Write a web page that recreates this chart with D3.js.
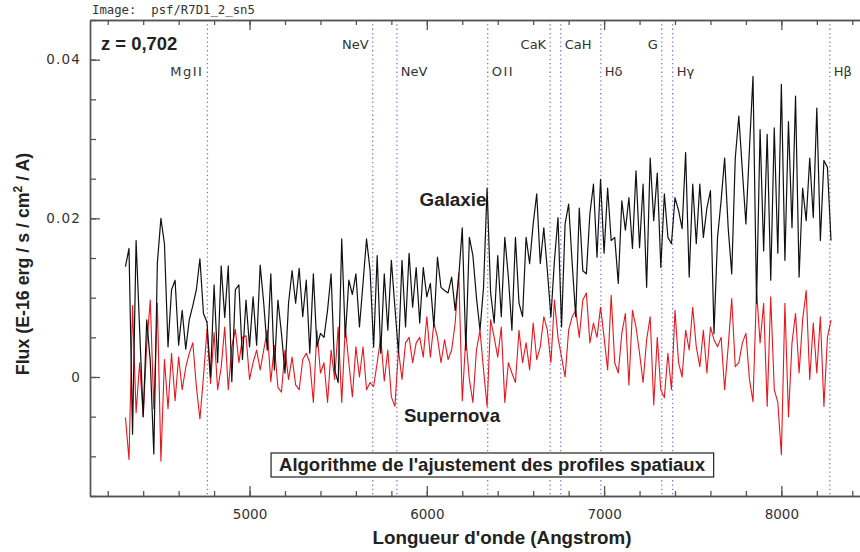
<!DOCTYPE html>
<html>
<head>
<meta charset="utf-8">
<script src="https://cdn.jsdelivr.net/npm/d3@7"></script>
<style>
  body { margin: 0; background: #fff; }
  svg { display: block; }
</style>
</head>
<body>
<svg id="chart" width="860" height="552"></svg>
<script>
// Spectrum sampling grid (Angstrom)
const wavelengths = d3.range(4300, 8300, 20);

// Galaxy flux (E-16 erg / s / cm2 / A)
const galaxyFlux = [
  .0139, .0162, -.0072, .0172, .0060, -.0050, .0072, .0020, -.0097, .0144,
  .0200, .0168, .0038, .0110, .0122, .0040, .0084, .0035, .0072, .0090,
  .0110, .0149, .0080, .0069, .0000, .0116, .0018, .0140, .0075, .0140,
  -.0006, .0110, .0116, .0022, .0097, .0038, .0101, .0040, .0141, .0093,
  .0034, .0130, .0009, .0097, .0055, .0005, .0093, .0134, .0093, .0137,
  .0076, .0122, .0030, .0130, .0038, .0055, .0050, .0084, .0130, .0009,
  -.0007, .0174, .0050, .0122, .0104, .0130, .0063, .0118, .0174, .0134,
  .0038, .0153, .0030, .0130, .0059, .0147, .0088, .0030, .0147, .0063,
  .0156, .0088, .0138, .0068, .0138, .0101, .0118, .0063, .0151, .0113,
  .0109, .0106, .0126, .0084, .0126, .0188, .0034, .0176, .0153, .0100,
  .0059, .0113, .0238, .0106, .0068, .0153, .0076, .0176, .0126, .0059,
  .0176, .0093, .0076, .0176, .0143, .0193, .0231, .0143, .0188, .0134,
  .0076, .0147, .0201, .0063, .0193, .0218, .0143, .0076, .0213, .0134,
  .0130, .0206, .0243, .0151, .0249, .0156, .0238, .0172, .0176, .0118,
  .0222, .0185, .0226, .0162, .0260, .0163, .0243, .0113, .0276, .0197,
  .0257, .0138, .0231, .0176, .0168, .0226, .0210, .0187, .0283, .0126,
  .0243, .0168, .0243, .0176, .0213, .0235, .0055, .0176, .0222, .0276,
  .0188, .0130, .0276, .0329, .0260, .0193, .0288, .0379, .0093, .0312,
  .0159, .0306, .0122, .0314, .0156, .0369, .0147, .0322, .0188, .0354,
  .0126, .0238, .0197, .0276, .0201, .0339, .0172, .0273, .0264, .0172
];

// Supernova flux (E-16 erg / s / cm2 / A)
const supernovaFlux = [
  -.0051, -.0104, .0090, -.0045, .0018, -.0050, .0040, .0097, -.0040, .0093,
  -.0106, .0022, -.0040, .0030, -.0030, .0025, -.0016, .0012, .0030, .0043,
  -.0012, -.0053, .0000, .0060, -.0008, .0056, -.0016, .0012, .0063, -.0016,
  .0038, .0060, .0018, .0050, .0052, -.0003, .0018, .0034, .0009, .0034,
  .0059, -.0006, .0040, -.0013, -.0019, .0034, -.0003, .0025, -.0010, -.0016,
  .0022, .0030, .0018, -.0032, .0059, .0005, .0018, -.0032, .0034, -.0003,
  .0063, -.0032, .0063, .0018, -.0025, .0038, .0000, .0038, -.0016, -.0007,
  -.0012, .0018, .0050, -.0005, .0034, -.0025, -.0037, .0034, -.0003, .0043,
  .0050, .0018, .0043, .0050, .0025, .0076, .0025, .0068, .0050, .0018,
  .0047, .0022, .0034, .0068, .0131, -.0030, .0050, -.0003, -.0032, .0034,
  .0059, .0009, -.0037, .0072, .0050, .0025, .0063, -.0032, .0018, .0005,
  -.0007, .0059, .0018, .0043, .0009, .0068, .0022, .0038, .0076, .0059,
  .0018, .0097, .0050, .0025, .0000, .0059, .0076, .0084, .0050, .0097,
  .0106, .0043, .0068, .0050, .0088, .0050, .0009, .0103, .0018, .0005,
  .0055, .0080, -.0010, .0084, .0063, .0030, -.0007, .0047, .0076, -.0035,
  .0050, -.0016, -.0026, .0030, -.0016, .0084, .0018, .0000, .0059, .0034,
  .0088, .0038, .0013, .0059, .0005, .0063, .0047, .0038, .0050, -.0016,
  .0038, .0099, .0013, .0018, .0043, .0055, -.0003, -.0031, .0109, .0043,
  .0093, -.0037, .0101, -.0016, -.0032, -.0098, .0093, -.0050, .0043, .0080,
  .0005, .0072, .0109, -.0003, .0068, .0005, .0076, -.0037, .0050, .0072
];

// Spectral features, rest-frame wavelengths (Angstrom)
const redshift = 0.702;
const lineNames = ["MgII", "NeV", "NeV", "OII", "CaK", "CaH", "Hδ", "G", "Hγ", "Hβ"];
const restWavelengths = [2798, 3346, 3426, 3727, 3934, 3969, 4102, 4304, 4340, 4861];

// Axis ticks
const xMajorTicks = [5000, 6000, 7000, 8000];
const xMinorTicks = d3.range(4200, 8500, 200);
const yMajorTicks = [0, 0.02, 0.04];
const yTickLabels = ["0", "0.02", "0.04"];
const yMinorTicks = d3.range(-0.015, 0.0451, 0.005);

// ---- layout ----
const svg = d3.select("#chart");
const plotLeft = 90, plotRight = 870, plotTop = 20, plotBottom = 496;
const axisColor = "#555";
const textColor = "#333";

const x = d3.scaleLinear().domain([4100, 8500]).range([plotLeft, plotRight]);
const y = d3.scaleLinear().domain([-0.015, 0.045]).range([plotBottom, plotTop]);

// Feature label row (0 upper, 1 lower) and side of the dotted marker
const labelRow  = [1, 0, 1, 1, 0, 0, 1, 0, 1, 1];
const labelSide = ["left", "left", "right", "right", "left", "right", "right", "left", "right", "right"];

// Dotted markers at redshifted feature wavelengths
const features = lineNames.map((name, i) => ({
  name, obs: restWavelengths[i] * (1 + redshift), row: labelRow[i], side: labelSide[i]
}));

svg.append("g").selectAll("line")
  .data(features).join("line")
  .attr("x1", d => x(d.obs)).attr("x2", d => x(d.obs))
  .attr("y1", plotTop).attr("y2", plotBottom)
  .attr("stroke", "#7a7ad0").attr("stroke-width", 1.3)
  .attr("stroke-dasharray", "1.3,3");

svg.append("g").selectAll("text")
  .data(features).join("text")
  .attr("x", d => x(d.obs) + (d.side === "left" ? -4 : 4))
  .attr("y", d => d.row === 0 ? 49 : 76)
  .attr("text-anchor", d => d.side === "left" ? "end" : "start")
  .attr("font-family", "DejaVu Sans")
  .attr("font-size", 13)
  .attr("letter-spacing", d => /I/.test(d.name) ? 1.5 : 0)
  .attr("fill", textColor)
  .text(d => d.name);

// ---- spectra ----
const line = d3.line()
  .x((d, i) => x(wavelengths[i]))
  .y(d => y(d));

svg.append("path")
  .datum(supernovaFlux)
  .attr("fill", "none")
  .attr("stroke", "#e8161e")
  .attr("stroke-width", 1.1)
  .attr("stroke-linejoin", "round")
  .attr("d", line);

svg.append("path")
  .datum(galaxyFlux)
  .attr("fill", "none")
  .attr("stroke", "#111")
  .attr("stroke-width", 1.2)
  .attr("stroke-linejoin", "round")
  .attr("d", line);

// ---- axes ----
function styleAxis(g) {
  g.selectAll("path.domain").attr("stroke", axisColor).attr("stroke-width", 1.4);
  g.selectAll(".tick line").attr("stroke", axisColor).attr("stroke-width", 1.3);
  g.selectAll(".tick text")
    .attr("fill", textColor)
    .attr("font-family", "DejaVu Sans")
    .attr("font-size", 13.5);
}

// bottom
svg.append("g").attr("transform", `translate(0,${plotBottom})`)
  .call(d3.axisBottom(x).tickValues(xMinorTicks).tickSize(-5).tickFormat("").tickSizeOuter(0))
  .call(styleAxis);
svg.append("g").attr("transform", `translate(0,${plotBottom})`)
  .call(d3.axisBottom(x).tickValues(xMajorTicks).tickSize(-10).tickPadding(13)
    .tickFormat(d3.format("d")).tickSizeOuter(0))
  .call(styleAxis);

// top
svg.append("g").attr("transform", `translate(0,${plotTop})`)
  .call(d3.axisTop(x).tickValues(xMinorTicks).tickSize(-5).tickFormat("").tickSizeOuter(0))
  .call(styleAxis);
svg.append("g").attr("transform", `translate(0,${plotTop})`)
  .call(d3.axisTop(x).tickValues(xMajorTicks).tickSize(-10).tickFormat("").tickSizeOuter(0))
  .call(styleAxis);

// left
svg.append("g").attr("transform", `translate(${plotLeft},0)`)
  .call(d3.axisLeft(y).tickValues(yMinorTicks).tickSize(-6).tickFormat("").tickSizeOuter(0))
  .call(styleAxis);
svg.append("g").attr("transform", `translate(${plotLeft},0)`)
  .call(d3.axisLeft(y).tickValues(yMajorTicks).tickSize(-10).tickPadding(9)
    .tickFormat((d, i) => yTickLabels[i]).tickSizeOuter(0))
  .call(styleAxis)
  .selectAll(".tick text").attr("letter-spacing", 1.2);

// right (major ticks only)
svg.append("g").attr("transform", `translate(${plotRight},0)`)
  .call(d3.axisRight(y).tickValues(yMajorTicks).tickSize(-10).tickFormat("").tickSizeOuter(0))
  .call(styleAxis);

// ---- titles and annotations ----
svg.append("text")
  .attr("x", 92).attr("y", 14)
  .attr("font-family", "DejaVu Sans Mono").attr("font-size", 12.3)
  .attr("fill", textColor).attr("xml:space", "preserve")
  .text("Image:  psf/R7D1_2_sn5");

const bold = (sel) => sel.attr("font-family", "Liberation Sans, Arial, sans-serif")
  .attr("font-weight", "bold").attr("fill", "#222");

svg.append("text").call(bold)
  .attr("x", 101).attr("y", 50).attr("font-size", 18.4)
  .text("z = 0,702");

svg.append("text").call(bold)
  .attr("x", 453).attr("y", 206).attr("text-anchor", "middle").attr("font-size", 18.8)
  .text("Galaxie");

svg.append("text").call(bold)
  .attr("x", 452).attr("y", 422).attr("text-anchor", "middle").attr("font-size", 18.6)
  .text("Supernova");

// framed caption
const caption = svg.append("g");
const capText = caption.append("text").call(bold)
  .attr("x", 492).attr("y", 471).attr("text-anchor", "middle").attr("font-size", 18.5)
  .text("Algorithme de l'ajustement des profiles spatiaux");
const bb = capText.node().getBBox();
caption.insert("rect", "text")
  .attr("x", bb.x - 8).attr("y", 453)
  .attr("width", bb.width + 16).attr("height", 24)
  .attr("fill", "#fff").attr("stroke", "#222").attr("stroke-width", 1.2);

// axis titles
svg.append("text").call(bold)
  .attr("x", 502).attr("y", 544).attr("text-anchor", "middle").attr("font-size", 18.8)
  .text("Longueur d'onde (Angstrom)");

const yTitle = svg.append("text").call(bold)
  .attr("transform", "translate(29,264) rotate(-90)")
  .attr("text-anchor", "middle").attr("font-size", 17.8);
yTitle.append("tspan").text("Flux (E-16 erg / s / cm");
yTitle.append("tspan").attr("dy", -7).attr("font-size", 12).text("2");
yTitle.append("tspan").attr("dy", 7).text(" / A)");
</script>
</body>
</html>
